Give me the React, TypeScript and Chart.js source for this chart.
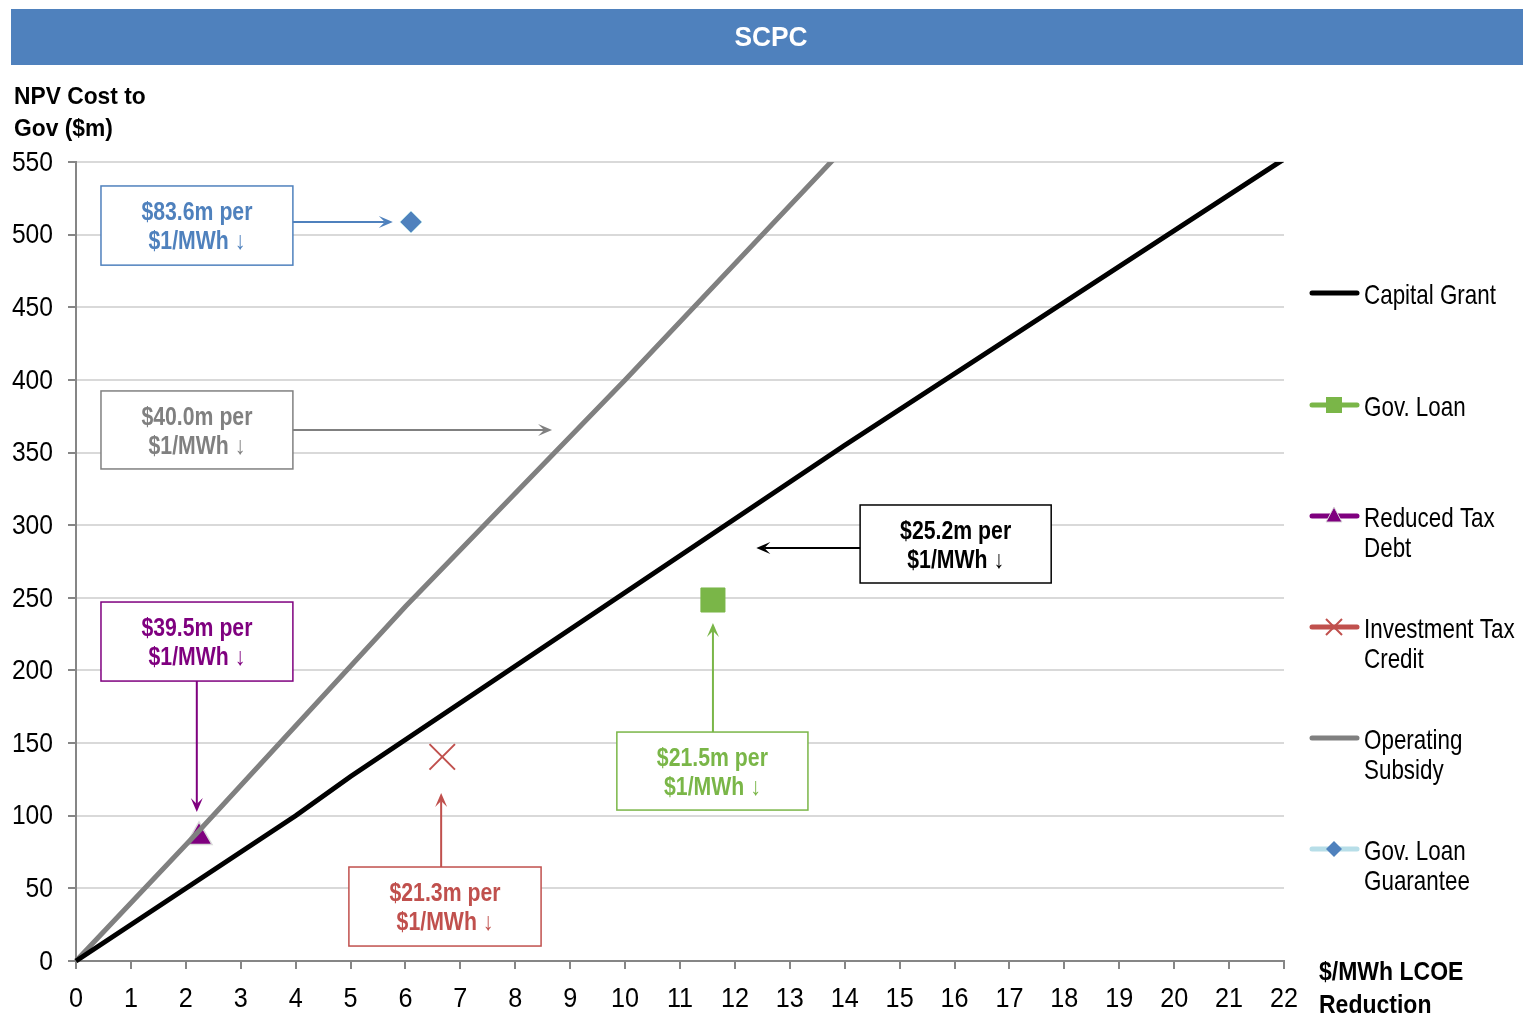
import React, { useEffect, useRef } from "react";
import { Chart, registerables } from "chart.js";

Chart.register(...registerables);

// ---------- data ----------
const chartTitle = "SCPC";
const yTitleLines = ["NPV Cost to", "Gov ($m)"];
const xTitleLines = ["$/MWh LCOE", "Reduction"];

const xMin = 0;
const xMax = 22;
const xStep = 1;
const yMin = 0;
const yMax = 550;
const yStep = 50;

const capitalGrantX = [0, 4, 5, 14, 22];
const capitalGrantY = [0, 100, 127, 355, 552];

const operatingSubsidyX = [0, 2.2, 6, 10, 14];
const operatingSubsidyY = [0, 88, 244, 400, 560];

const govLoanPoint = [11.6, 248.5];
const reducedTaxDebtPoint = [2.24, 85.4];
const investmentTaxCreditPoint = [6.67, 140.5];
const loanGuaranteePoint = [6.1, 508.7];

const legendLabels = [
  ["Capital Grant"],
  ["Gov. Loan"],
  ["Reduced Tax", "Debt"],
  ["Investment Tax", "Credit"],
  ["Operating", "Subsidy"],
  ["Gov. Loan", "Guarantee"],
];

const calloutTop = ["$83.6m per", "$40.0m per", "$25.2m per", "$39.5m per", "$21.5m per", "$21.3m per"];
const calloutBottom = "$1/MWh \u2193";

// ---------- styles / positions (data units) ----------
const FONT = "'Liberation Sans', Arial, sans-serif";
const BLUE = "#4F81BD";
const GREY = "#808080";
const PURPLE = "#7F007F";
const GREEN = "#7AB648";
const RED = "#C0504D";

const callouts = [
  { color: BLUE, box: [0.455, 3.95, 533.5, 479], arrow: [3.95, 508.7, 5.77, 508.7] },
  { color: GREY, box: [0.455, 3.95, 392.4, 338.7], arrow: [3.95, 365.5, 8.67, 365.5] },
  { color: "#000000", box: [14.28, 17.76, 313.9, 260.2], arrow: [14.28, 284.3, 12.39, 284.3] },
  { color: PURPLE, box: [0.455, 3.95, 247.1, 192.7], arrow: [2.2, 192.7, 2.2, 102.6] },
  { color: GREEN, box: [9.85, 13.33, 157.6, 103.9], arrow: [11.6, 157.6, 11.6, 232.7] },
  { color: RED, box: [4.97, 8.47, 64.7, 10.3], arrow: [6.65, 64.7, 6.65, 115.6] },
];

const legendStyles = [
  { line: "#000000", marker: null, mColor: "" },
  { line: GREEN, marker: "rect", mColor: GREEN },
  { line: PURPLE, marker: "triangle", mColor: PURPLE },
  { line: RED, marker: "cross", mColor: RED },
  { line: GREY, marker: null, mColor: "" },
  { line: "#B7DEE8", marker: "diamond", mColor: BLUE },
];

function narrowText(
  ctx: CanvasRenderingContext2D,
  text: string,
  x: number,
  y: number,
  size: number,
  bold: boolean,
  sx: number,
  align: CanvasTextAlign,
  color: string
) {
  ctx.save();
  ctx.translate(x, y);
  ctx.scale(sx, 1);
  ctx.font = `${bold ? "bold " : ""}${size}px ${FONT}`;
  ctx.textAlign = align;
  ctx.textBaseline = "middle";
  ctx.fillStyle = color;
  ctx.fillText(text, 0, 0);
  ctx.restore();
}

function drawArrow(ctx: CanvasRenderingContext2D, x1: number, y1: number, x2: number, y2: number, color: string) {
  const ang = Math.atan2(y2 - y1, x2 - x1);
  const len = 14;
  const half = 6;
  const notch = 8;
  ctx.save();
  ctx.strokeStyle = color;
  ctx.fillStyle = color;
  ctx.lineWidth = 2;
  ctx.beginPath();
  ctx.moveTo(x1, y1);
  ctx.lineTo(x2 - Math.cos(ang) * notch, y2 - Math.sin(ang) * notch);
  ctx.stroke();
  ctx.translate(x2, y2);
  ctx.rotate(ang);
  ctx.beginPath();
  ctx.moveTo(0, 0);
  ctx.lineTo(-len, -half);
  ctx.lineTo(-notch, 0);
  ctx.lineTo(-len, half);
  ctx.closePath();
  ctx.fill();
  ctx.restore();
}

function drawLegendMarker(ctx: CanvasRenderingContext2D, kind: string | null, x: number, y: number, color: string) {
  if (!kind) return;
  ctx.save();
  ctx.fillStyle = color;
  ctx.strokeStyle = color;
  if (kind === "rect") {
    ctx.fillRect(x - 8, y - 8, 16, 16);
  } else if (kind === "triangle") {
    ctx.beginPath();
    ctx.moveTo(x, y - 9);
    ctx.lineTo(x + 8, y + 6);
    ctx.lineTo(x - 8, y + 6);
    ctx.closePath();
    ctx.fill();
    ctx.strokeStyle = "#D9D9D9";
    ctx.lineWidth = 1;
    ctx.stroke();
  } else if (kind === "cross") {
    ctx.lineWidth = 2;
    ctx.beginPath();
    ctx.moveTo(x - 8, y - 8);
    ctx.lineTo(x + 8, y + 8);
    ctx.moveTo(x + 8, y - 8);
    ctx.lineTo(x - 8, y + 8);
    ctx.stroke();
  } else if (kind === "diamond") {
    ctx.beginPath();
    ctx.moveTo(x, y - 8);
    ctx.lineTo(x + 8, y);
    ctx.lineTo(x, y + 8);
    ctx.lineTo(x - 8, y);
    ctx.closePath();
    ctx.fill();
  }
  ctx.restore();
}

const decorPlugin = {
  id: "decor",
  afterDatasetsDraw(chart: any) {
    const ctx: CanvasRenderingContext2D = chart.ctx;
    const xs = chart.scales.x;
    const ys = chart.scales.y;
    callouts.forEach((c, i) => {
      const left = xs.getPixelForValue(c.box[0]);
      const right = xs.getPixelForValue(c.box[1]);
      const top = ys.getPixelForValue(c.box[2]);
      const bottom = ys.getPixelForValue(c.box[3]);
      ctx.save();
      ctx.fillStyle = "#ffffff";
      ctx.fillRect(left, top, right - left, bottom - top);
      ctx.strokeStyle = c.color;
      ctx.lineWidth = 1.5;
      ctx.strokeRect(left, top, right - left, bottom - top);
      ctx.restore();
      const cx = (left + right) / 2;
      const cy = (top + bottom) / 2;
      narrowText(ctx, calloutTop[i], cx, cy - 12, 25, true, 0.85, "center", c.color);
      narrowText(ctx, calloutBottom, cx, cy + 17, 25, true, 0.85, "center", c.color);
      drawArrow(
        ctx,
        xs.getPixelForValue(c.arrow[0]),
        ys.getPixelForValue(c.arrow[1]),
        xs.getPixelForValue(c.arrow[2]),
        ys.getPixelForValue(c.arrow[3]),
        c.color
      );
    });
  },
  afterDraw(chart: any) {
    const ctx: CanvasRenderingContext2D = chart.ctx;
    const xs = chart.scales.x;
    const ys = chart.scales.y;
    const area = chart.chartArea;

    // tick labels (from the library's scales)
    ys.ticks.forEach((t: any) => {
      narrowText(ctx, String(t.value), 53, ys.getPixelForValue(t.value) + 1, 28, false, 0.88, "right", "#000000");
    });
    xs.ticks.forEach((t: any) => {
      narrowText(ctx, String(t.value), xs.getPixelForValue(t.value), area.bottom + 38, 28, false, 0.9, "center", "#000000");
    });

    // title band
    ctx.save();
    ctx.fillStyle = BLUE;
    ctx.fillRect(11, 9, 1512, 56);
    ctx.restore();
    narrowText(ctx, chartTitle, 771, 38, 28, true, 0.94, "center", "#ffffff");

    // axis titles
    yTitleLines.forEach((t, i) => narrowText(ctx, t, 14, 97 + i * 32, 24, true, 0.95, "left", "#000000"));
    xTitleLines.forEach((t, i) => narrowText(ctx, t, 1319, 973 + i * 33, 25, true, 0.92, "left", "#000000"));

    // legend
    const rowY = [293, 405, 516, 627, 738, 849];
    legendLabels.forEach((lines, i) => {
      const st = legendStyles[i];
      const y = rowY[i];
      ctx.save();
      ctx.strokeStyle = st.line;
      ctx.lineWidth = 5;
      ctx.lineCap = "round";
      ctx.beginPath();
      ctx.moveTo(1312, y);
      ctx.lineTo(1357, y);
      ctx.stroke();
      ctx.restore();
      drawLegendMarker(ctx, st.marker, 1334, y, st.mColor);
      lines.forEach((t, j) => narrowText(ctx, t, 1364, y + 3 + j * 30, 28, false, 0.8, "left", "#000000"));
    });
  },
};

export default function App() {
  const canvasRef = useRef<HTMLCanvasElement | null>(null);

  useEffect(() => {
    if (!canvasRef.current) return;
    const toPts = (xs: number[], ys: number[]) => xs.map((x, i) => ({ x, y: ys[i] }));
    const lineClip = { left: 5, bottom: 5, right: 5, top: 0 };
    const chart = new Chart(canvasRef.current, {
      type: "scatter",
      data: {
        datasets: [
          {
            label: "Gov. Loan",
            data: [{ x: govLoanPoint[0], y: govLoanPoint[1] }],
            pointStyle: "rect",
            pointRadius: 17,
            backgroundColor: GREEN,
            borderColor: GREEN,
            borderWidth: 1,
          },
          {
            label: "Gov. Loan Guarantee",
            data: [{ x: loanGuaranteePoint[0], y: loanGuaranteePoint[1] }],
            pointStyle: "rectRot",
            pointRadius: 11,
            backgroundColor: BLUE,
            borderColor: "#B7DEE8",
            borderWidth: 1,
          },
          {
            label: "Investment Tax Credit",
            data: [{ x: investmentTaxCreditPoint[0], y: investmentTaxCreditPoint[1] }],
            pointStyle: "crossRot",
            pointRadius: 18,
            backgroundColor: RED,
            borderColor: RED,
            borderWidth: 2,
          },
          {
            label: "Capital Grant",
            data: toPts(capitalGrantX, capitalGrantY),
            showLine: true,
            borderColor: "#000000",
            borderWidth: 5,
            pointRadius: 0,
            tension: 0,
            clip: lineClip,
          },
          {
            label: "Operating Subsidy",
            data: toPts(operatingSubsidyX, operatingSubsidyY),
            showLine: true,
            borderColor: GREY,
            borderWidth: 5,
            pointRadius: 0,
            tension: 0,
            clip: lineClip,
          },
          {
            label: "Reduced Tax Debt",
            data: [{ x: reducedTaxDebtPoint[0], y: reducedTaxDebtPoint[1] }],
            pointStyle: "triangle",
            pointRadius: 15,
            backgroundColor: PURPLE,
            borderColor: "#D9D9D9",
            borderWidth: 1.5,
          },
        ] as any,
      },
      options: {
        animation: false,
        responsive: false,
        maintainAspectRatio: false,
        events: [],
        layout: { padding: { left: 0, top: 162, right: 1523 - 1284, bottom: 0 } },
        plugins: {
          legend: { display: false },
          tooltip: { enabled: false },
          title: { display: false },
        },
        scales: {
          x: {
            type: "linear",
            min: xMin,
            max: xMax,
            ticks: {
              stepSize: xStep,
              display: false,
              autoSkip: false,
              maxRotation: 0,
            },
            grid: {
              drawOnChartArea: false,
              drawTicks: true,
              tickLength: 8,
              color: "#868686",
              lineWidth: 2,
            },
            border: { color: "#868686", width: 2 },
            afterFit: (s: any) => {
              s.height = 1016 - 961;
            },
          } as any,
          y: {
            type: "linear",
            min: yMin,
            max: yMax,
            ticks: {
              stepSize: yStep,
              display: false,
            },
            grid: {
              color: "#D9D9D9",
              lineWidth: 2,
              tickColor: "#868686",
              tickLength: 8,
            },
            border: { color: "#868686", width: 2 },
            afterFit: (s: any) => {
              s.width = 76;
            },
          } as any,
        },
      },
      plugins: [decorPlugin],
    });
    return () => chart.destroy();
  }, []);

  return (
    <div style={{ position: "fixed", left: 0, top: 0, width: 1523, height: 1016, background: "#ffffff" }}>
      <canvas ref={canvasRef} width={1523} height={1016} style={{ width: 1523, height: 1016, display: "block" }} />
    </div>
  );
}
